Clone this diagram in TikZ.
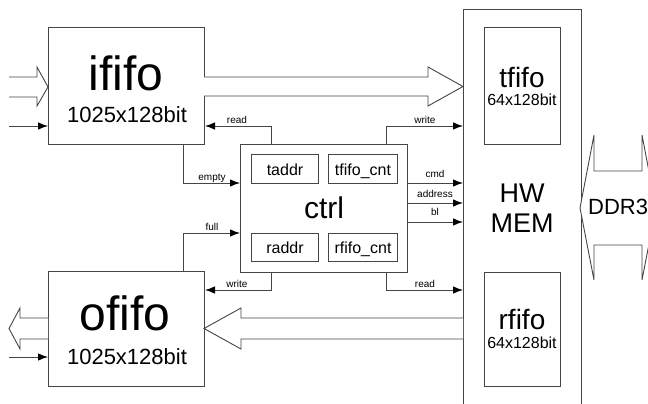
\documentclass[tikz,border=0pt]{standalone}
\usepackage{fontspec}
\setmainfont{Liberation Sans}
\usetikzlibrary{arrows.meta}
\definecolor{ln}{HTML}{454545}
\begin{document}
\begin{tikzpicture}[x=1pt,y=-1pt,
  box/.style={draw=ln, line width=1pt, anchor=north west, inner sep=0pt, fill=white},
  sub/.style={box, font=\fontsize{16}{16}\selectfont, text height=12pt, text depth=0pt},
  sig/.style={draw=ln, line width=0.9pt, -{Latex[length=10pt,width=7.5pt,color=black]}},
  hollow/.style={draw=ln, line width=0.9pt, fill=white},
  lbl/.style={font=\fontsize{10}{10}\selectfont, anchor=base, inner sep=0pt},
  big/.style={font=\fontsize{48}{48}\selectfont, anchor=base, inner sep=0pt},
  mid/.style={font=\fontsize{22}{22}\selectfont, anchor=base, inner sep=0pt},
  med/.style={font=\fontsize{28}{28}\selectfont, anchor=base, inner sep=0pt},
  sml/.style={font=\fontsize{16}{16}\selectfont, anchor=base, inner sep=0pt}
]
\useasboundingbox (0,0) rectangle (648,404);
\clip (0,0) rectangle (648,404);

% HW MEM block
\node[box, minimum width=118pt, minimum height=420pt] (hw) at (463,9) {};
\node[box, minimum width=76pt, minimum height=117pt] (tfifo) at (484,27) {};
\node[box, minimum width=76pt, minimum height=114pt] (rfifo) at (484,272) {};
\node[med] (tfifot) at (522,88) {tfifo};
\node[sml] (tfifos) at (522,106) {64x128bit};
\node[med] (rfifot) at (522,329) {rfifo};
\node[sml] (rfifos) at (522,348) {64x128bit};
\node[font=\fontsize{27}{27}\selectfont, anchor=base, inner sep=0pt] (hwt1) at (522,202) {HW};
\node[font=\fontsize{27}{27}\selectfont, anchor=base, inner sep=0pt] (hwt2) at (522,232) {MEM};

% DDR3 double arrow
\draw[hollow] (580,208) -- (594,135) -- (594,171) -- (642,171) -- (642,135) -- (656,208)
  -- (642,280) -- (642,245) -- (594,245) -- (594,280) -- cycle;
\node[font=\fontsize{22}{22}\selectfont, anchor=base west, inner sep=0pt] (ddr) at (588,214) {DDR3};

% ififo
\node[box, minimum width=156pt, minimum height=117pt] (ififo) at (48,27) {};
\node[big] (ififot) at (126,91) {ififo};
\node[mid] (ififos) at (127,122) {1025x128bit};

% ofifo
\node[box, minimum width=156pt, minimum height=115pt] (ofifo) at (48,271) {};
\node[big] (ofifot) at (125,330) {ofifo};
\node[mid] (ofifos) at (127,364) {1025x128bit};

% ctrl
\node[box, minimum width=167pt, minimum height=128pt] (ctrl) at (240,144) {};
\node[med, font=\fontsize{30}{30}\selectfont] (ctrlt) at (324,218) {ctrl};
\node[sub, minimum width=67pt, minimum height=29pt] (taddr) at (251,154) {taddr};
\node[sub, minimum width=69pt, minimum height=29pt] (tcnt) at (328,154) {tfifo\_cnt};
\node[sub, minimum width=67pt, minimum height=28pt] (raddr) at (251,233) {raddr};
\node[sub, minimum width=69pt, minimum height=28pt] (rcnt) at (328,233) {rfifo\_cnt};

% hollow data arrows
\draw[hollow] (9,77) -- (37,77) -- (37,67) -- (48,87) -- (37,106) -- (37,97) -- (9,97);
\draw[hollow] (204,77) -- (428,77) -- (428,67) -- (463,86.5) -- (428,106) -- (428,96) -- (204,96);
\draw[hollow] (463,318) -- (241,318) -- (241,308) -- (204,328.5) -- (241,349) -- (241,339) -- (463,339);
\draw[hollow] (48,318) -- (20,318) -- (20,308) -- (9,328.5) -- (20,349) -- (20,339) -- (48,339);

% thin inputs
\coordinate (in1) at (9,126);
\coordinate (in2) at (9,357);
\draw[sig] (in1) -- (in1 -| ififo.west);
\draw[sig] (in2) -- (in2 -| ofifo.west);

% control signals
\coordinate (rdL) at (271,126);
\coordinate (em) at (183,183);
\coordinate (fu) at (183,233);
\coordinate (wrL) at (271,290);
\coordinate (wrR) at (386,126);
\coordinate (cm) at (430,183);
\coordinate (ad) at (430,203);
\coordinate (bl) at (430,222);
\coordinate (rdR) at (386,290);
\draw[sig] (ctrl.north -| rdL) -- (rdL) -- (rdL -| ififo.east);
\draw[sig] (ififo.south -| em) -- (em) -- (em -| ctrl.west);
\draw[sig] (ofifo.north -| fu) -- (fu) -- (fu -| ctrl.west);
\draw[sig] (ctrl.south -| wrL) -- (wrL) -- (wrL -| ofifo.east);
\draw[sig] (ctrl.north -| wrR) -- (wrR) -- (wrR -| hw.west);
\draw[sig] (ctrl.east |- cm) -- (hw.west |- cm);
\draw[sig] (ctrl.east |- ad) -- (hw.west |- ad);
\draw[sig] (ctrl.east |- bl) -- (hw.west |- bl);
\draw[sig] (ctrl.south -| rdR) -- (rdR) -- (rdR -| hw.west);

\node[lbl] (l1) at (237,123) {read};
\node[lbl] (l2) at (212,180) {empty};
\node[lbl] (l3) at (212,230) {full};
\node[lbl] (l4) at (237,287) {write};
\node[lbl] (l5) at (425,123) {write};
\node[lbl] (l6) at (435,177) {cmd};
\node[lbl] (l7) at (435,197) {address};
\node[lbl] (l8) at (435,215) {bl};
\node[lbl] (l9) at (425,287) {read};
\end{tikzpicture}
\end{document}
